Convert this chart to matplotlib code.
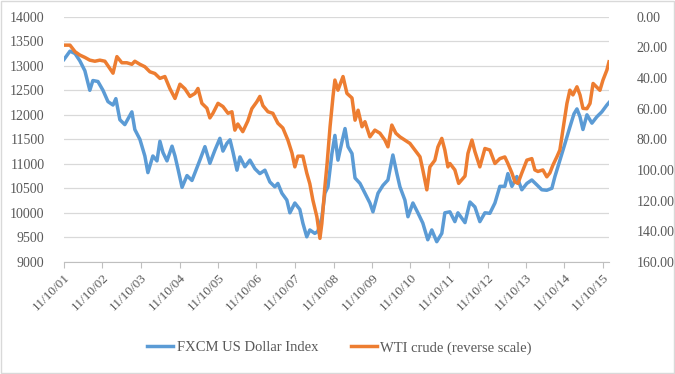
import matplotlib
matplotlib.use("Agg")
import matplotlib.pyplot as plt
import pandas as pd
from matplotlib.patches import Rectangle
from matplotlib.ticker import FuncFormatter

# FXCM US Dollar Index (left axis)
usd_dates = [
    "2001-11-10", "2002-01-06", "2002-02-23", "2002-04-10", "2002-05-27", "2002-07-13",
    "2002-08-11", "2002-09-28", "2002-11-15", "2003-01-01", "2003-02-18", "2003-03-17",
    "2003-04-24", "2003-06-10", "2003-08-16", "2003-09-13", "2003-10-31", "2003-12-17",
    "2004-01-15", "2004-03-02", "2004-04-10", "2004-05-08", "2004-06-06", "2004-07-14",
    "2004-08-31", "2004-09-28", "2004-10-27", "2004-12-04", "2005-01-20", "2005-03-08",
    "2005-04-06", "2005-05-22", "2005-07-09", "2005-08-25", "2005-10-12", "2005-11-28",
    "2005-12-27", "2006-02-03", "2006-03-04", "2006-04-01", "2006-05-09", "2006-06-06",
    "2006-07-23", "2006-09-09", "2006-10-26", "2006-12-12", "2007-01-29", "2007-03-17",
    "2007-05-03", "2007-06-01", "2007-07-09", "2007-08-25", "2007-09-23", "2007-11-09",
    "2007-12-26", "2008-01-24", "2008-03-01", "2008-03-30", "2008-05-16", "2008-06-14",
    "2008-07-22", "2008-08-20", "2008-09-18", "2008-10-25", "2008-11-23", "2008-12-22",
    "2009-01-29", "2009-02-27", "2009-03-27", "2009-05-04", "2009-06-02", "2009-07-19",
    "2009-09-04", "2009-10-21", "2009-11-19", "2010-01-06", "2010-02-22", "2010-04-10",
    "2010-05-27", "2010-07-04", "2010-08-02", "2010-09-18", "2010-10-17", "2010-12-03",
    "2011-01-19", "2011-03-07", "2011-04-23", "2011-05-31", "2011-07-17", "2011-09-03",
    "2011-10-02", "2011-11-19", "2012-01-05", "2012-02-03", "2012-04-10", "2012-05-27",
    "2012-07-13", "2012-08-29", "2012-10-16", "2012-12-02", "2013-01-19", "2013-03-07",
    "2013-04-23", "2013-05-22", "2013-06-29", "2013-08-15", "2013-10-01", "2013-11-18",
    "2014-01-04", "2014-02-21", "2014-04-09", "2014-05-26", "2014-07-13", "2014-08-11",
    "2014-09-27", "2014-11-14", "2014-12-31", "2015-02-08", "2015-03-08", "2015-04-06",
    "2015-05-04", "2015-06-11", "2015-07-28", "2015-09-13", "2015-10-30", "2015-12-17",
    "2016-01-06",
]
usd_values = [
    13130, 13300, 13250, 13100, 12900, 12500,
    12700, 12680, 12500, 12270, 12200, 12330,
    11900, 11800, 12060, 11700, 11500, 11160,
    10820, 11160, 11060, 11460, 11230, 11060,
    11360, 11160, 10890, 10520, 10760, 10660,
    10820, 11075, 11350, 11010, 11280, 11520,
    11260, 11420, 11490, 11240, 10870, 11140,
    10940, 11075, 10900, 10800, 10870, 10630,
    10530, 10600, 10400, 10260, 10000, 10200,
    10070, 9790, 9510, 9650, 9580, 9620,
    9900, 10400, 10530, 11200, 11580, 11075,
    11450, 11720, 11350, 11210, 10710, 10600,
    10400, 10200, 10020, 10400, 10560, 10670,
    11180, 10800, 10530, 10260, 9920, 10200,
    10000, 9790, 9450, 9650, 9410, 9580,
    10000, 10020, 9820, 10000, 9800, 10220,
    10120, 9820, 10000, 9990, 10200, 10540,
    10540, 10800, 10540, 10740, 10470, 10600,
    10670, 10570, 10470, 10460, 10500, 10740,
    11070, 11410, 11750, 12020, 12120, 11960,
    11700, 12000, 11830, 11960, 12060, 12200,
    12250,
]

# WTI crude, USD per barrel (right axis, reversed)
wti_dates = [
    "2001-11-10", "2002-01-06", "2002-02-23", "2002-04-10", "2002-05-27", "2002-07-13",
    "2002-08-30", "2002-10-16", "2002-12-03", "2003-01-19", "2003-02-18", "2003-03-27",
    "2003-05-13", "2003-06-29", "2003-08-16", "2003-09-13", "2003-10-31", "2003-12-17",
    "2004-02-03", "2004-03-21", "2004-05-08", "2004-06-24", "2004-08-10", "2004-09-28",
    "2004-11-14", "2004-12-31", "2005-02-17", "2005-04-06", "2005-05-04", "2005-06-10",
    "2005-07-28", "2005-08-25", "2005-09-23", "2005-11-10", "2005-12-27", "2006-02-13",
    "2006-03-22", "2006-04-19", "2006-05-17", "2006-07-03", "2006-08-20", "2006-09-27",
    "2006-11-13", "2006-12-12", "2007-01-10", "2007-02-27", "2007-04-14", "2007-06-01",
    "2007-07-18", "2007-09-04", "2007-10-13", "2007-11-09", "2007-12-08", "2008-01-24",
    "2008-03-01", "2008-03-30", "2008-04-28", "2008-06-05", "2008-07-04", "2008-07-22",
    "2008-08-20", "2008-09-10", "2008-10-08", "2008-11-05", "2008-11-23", "2008-12-22",
    "2009-02-08", "2009-03-17", "2009-05-04", "2009-06-02", "2009-07-01", "2009-08-07",
    "2009-09-04", "2009-10-21", "2009-12-07", "2010-01-24", "2010-03-12", "2010-04-10",
    "2010-05-17", "2010-06-24", "2010-08-02", "2010-09-18", "2010-11-05", "2010-12-22",
    "2011-02-08", "2011-03-07", "2011-04-14", "2011-05-13", "2011-06-29", "2011-07-28",
    "2011-09-03", "2011-10-02", "2011-10-31", "2011-11-19", "2012-01-05", "2012-02-10",
    "2012-04-10", "2012-05-08", "2012-06-15", "2012-07-13", "2012-08-29", "2012-10-16",
    "2012-12-02", "2013-01-19", "2013-03-07", "2013-04-23", "2013-05-22", "2013-06-29",
    "2013-07-28", "2013-08-25", "2013-10-01", "2013-11-18", "2014-01-04", "2014-02-02",
    "2014-03-03", "2014-04-19", "2014-05-26", "2014-06-24", "2014-07-23", "2014-08-30",
    "2014-09-27", "2014-10-26", "2014-12-03", "2014-12-31", "2015-01-29", "2015-03-08",
    "2015-04-06", "2015-05-04", "2015-06-11", "2015-07-10", "2015-08-08", "2015-09-13",
    "2015-10-12", "2015-11-10", "2015-12-17", "2016-01-06",
]
wti_values = [
    18.5, 18.5, 22.8, 25.0, 26.5, 28.3,
    29.0, 28.3, 29.0, 33.7, 36.8, 26.0,
    30.0, 30.0, 31.0, 29.0, 31.0, 32.6,
    35.9, 37.0, 40.2, 39.0, 46.8, 53.3,
    44.0, 47.0, 52.0, 50.0, 46.8, 56.5,
    59.7, 66.0, 63.0, 56.5, 58.6, 63.0,
    62.0, 74.0, 70.0, 75.0, 68.0, 60.0,
    55.5, 52.0, 58.0, 62.0, 63.0, 69.5,
    72.6, 80.5, 89.0, 98.0, 91.0, 91.0,
    102.0, 109.0, 119.7, 130.6, 144.7, 135.0,
    111.0, 95.8, 71.8, 52.0, 41.3, 47.9,
    39.0, 50.0, 53.0, 67.5, 61.0, 71.8,
    68.5, 78.4, 74.0, 76.0, 80.5, 84.9,
    70.7, 76.0, 78.4, 80.5, 82.7, 87.0,
    91.4, 100.0, 113.0, 98.0, 93.7, 85.0,
    79.4, 87.0, 98.0, 95.8, 100.0, 108.8,
    104.0, 89.2, 80.5, 88.0, 98.0, 86.0,
    87.0, 95.8, 92.6, 91.5, 95.8, 102.0,
    107.8, 108.8, 102.0, 93.6, 92.6, 100.0,
    101.0, 100.0, 104.5, 102.0, 96.9, 91.4,
    87.0, 74.0, 56.6, 47.9, 51.0, 45.7,
    51.0, 59.8, 60.0, 56.6, 43.5, 46.0,
    48.0, 41.3, 34.8, 29.4,
]

tick_dates = [f"{y}-11-10" for y in range(2001, 2016)]
tick_labels = [f"11/10/{y % 100:02d}" for y in range(2001, 2016)]

BLUE = "#5B9BD5"
ORANGE = "#ED7D31"
TEXT = "#595959"
GRID = "#D9D9D9"

plt.rcParams["font.family"] = ["Liberation Serif", "DejaVu Serif"]

usd_x = pd.to_datetime(usd_dates)
wti_x = pd.to_datetime(wti_dates)

fig = plt.figure(figsize=(6.75, 3.74), dpi=100)
fig.patches.append(Rectangle((0.001, 0.002), 0.997, 0.995, transform=fig.transFigure,
                             fill=False, edgecolor=GRID, linewidth=1.0))

ax = fig.add_axes([0.0948, 0.30, 0.8074, 0.655])
ax2 = ax.twinx()

l1, = ax.plot(usd_x, usd_values, color=BLUE, linewidth=2.5, solid_joinstyle="round",
              label="FXCM US Dollar Index")
l2, = ax2.plot(wti_x, wti_values, color=ORANGE, linewidth=2.5, solid_joinstyle="round",
               label="WTI crude (reverse scale)")

ax.set_xlim(usd_x[0], usd_x[-1])
ax.set_ylim(9000, 14000)
ax.set_yticks(range(9000, 14001, 500))
ax.yaxis.grid(True, color=GRID, linewidth=0.9)
ax.set_axisbelow(True)

ax2.set_ylim(160, 0)
ax2.set_yticks(range(0, 161, 20))
ax2.yaxis.set_major_formatter(FuncFormatter(lambda v, p: f"{v:.2f}"))

ax.set_xticks(pd.to_datetime(tick_dates))
ax.set_xticklabels(tick_labels, rotation=45, ha="right", rotation_mode="anchor")

for a in (ax, ax2):
    for s in a.spines.values():
        s.set_visible(False)
ax.spines["bottom"].set_visible(True)
ax.spines["bottom"].set_color("#BFBFBF")

ax.tick_params(axis="x", colors="#BFBFBF", length=4, width=0.8, labelsize=9.5,
               labelcolor=TEXT, pad=3)
ax.tick_params(axis="y", length=0, labelsize=10, labelcolor=TEXT, pad=14)
ax2.tick_params(axis="y", length=0, labelsize=10, labelcolor=TEXT, pad=20)

fig.legend([l1, l2], [l1.get_label(), l2.get_label()], loc="center",
           bbox_to_anchor=(0.503, 0.07), ncol=2, frameon=False, fontsize=10.5,
           labelcolor=TEXT, handlelength=1.8, handletextpad=0.25, columnspacing=2.2)

fig.savefig("out.png", dpi=100)
